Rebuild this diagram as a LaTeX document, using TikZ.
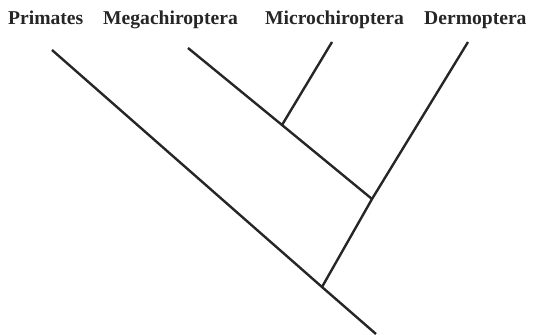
\documentclass[tikz,border=0pt]{standalone}
\usepackage{fontspec}
\setmainfont{Liberation Serif}
\usepackage{tikz}
\usetikzlibrary{positioning}
\tikzset{
  taxon/.style={anchor=base west, inner sep=0pt, font=\fontsize{19.6}{22}\selectfont\bfseries, text=black!85},
  branch/.style={line width=2.4pt, black!85}
}

\begin{document}
\begin{tikzpicture}[x=1pt, y=-1pt]
  \useasboundingbox (0,0) rectangle (534,334);

  %--- Taxon labels ---
  \node[taxon] (primates) at (8,25) {Primates};
  \node[taxon] (mega) at (103,25) {Megachiroptera};
  \node[taxon] (micro) at (265,25) {Microchiroptera};
  \node[taxon] (derm) at (424,25) {Dermoptera};

  % branch tips
  \coordinate (tipprim) at (52,50);
  \coordinate (tipmega) at (188,48);
  \coordinate (tipmicro) at (332,42);
  \coordinate (tipderm) at (468,42);

  % internal nodes
  \coordinate (bats) at (282,125);
  \coordinate (batsderm) at (372,199);
  \coordinate (root) at (322,287);
  \coordinate (base) at (376,334);

  %--- Tree ---
  \draw[branch] (tipprim) -- (root) -- (base);
  \draw[branch] (tipmega) -- (bats) -- (batsderm);
  \draw[branch] (tipmicro) -- (bats);
  \draw[branch] (tipderm) -- (batsderm) -- (root);
\end{tikzpicture}
\end{document}
